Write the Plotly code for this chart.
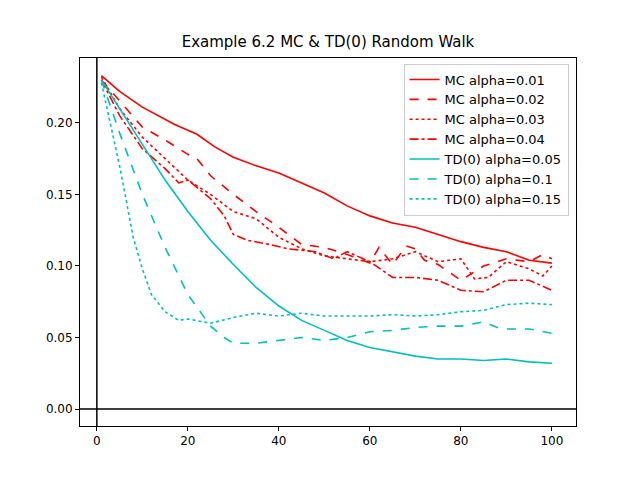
import plotly.graph_objects as go

# values (episodes vs RMS error)
mc1_x = [1, 5, 10, 17, 22, 26, 30, 35, 40, 45, 50, 55, 60, 65, 70, 75, 80, 85, 90, 95, 100]
mc1_y = [0.233, 0.222, 0.211, 0.199, 0.192, 0.183, 0.176, 0.170, 0.165, 0.158, 0.151, 0.142, 0.135, 0.130, 0.127, 0.122, 0.117, 0.113, 0.110, 0.104, 0.102]

mc2_x = [1, 5, 10, 15, 20, 22, 25, 30, 32, 35, 40, 45, 50, 55, 60, 62, 65, 68, 70, 72, 75, 80, 85, 88, 90, 95, 98, 100]
mc2_y = [0.230, 0.215, 0.197, 0.188, 0.178, 0.175, 0.163, 0.150, 0.145, 0.138, 0.127, 0.115, 0.113, 0.108, 0.102, 0.113, 0.101, 0.114, 0.112, 0.104, 0.101, 0.090, 0.100, 0.103, 0.105, 0.103, 0.108, 0.105]

mc3_x = [1, 5, 10, 15, 20, 25, 30, 35, 40, 45, 50, 55, 60, 65, 70, 75, 80, 83, 86, 90, 95, 98, 100]
mc3_y = [0.232, 0.210, 0.190, 0.175, 0.160, 0.150, 0.138, 0.133, 0.120, 0.112, 0.107, 0.105, 0.103, 0.105, 0.110, 0.103, 0.105, 0.091, 0.092, 0.103, 0.098, 0.093, 0.100]

mc4_x = [1, 5, 10, 15, 18, 20, 25, 28, 30, 33, 38, 42, 48, 52, 55, 60, 65, 70, 75, 80, 85, 90, 95, 100]
mc4_y = [0.230, 0.205, 0.182, 0.168, 0.158, 0.160, 0.147, 0.135, 0.122, 0.118, 0.115, 0.112, 0.110, 0.105, 0.110, 0.103, 0.092, 0.092, 0.090, 0.083, 0.082, 0.090, 0.090, 0.083]

td1_x = [1, 5, 10, 15, 20, 25, 30, 35, 40, 45, 50, 55, 60, 65, 70, 75, 80, 85, 90, 95, 100]
td1_y = [0.230, 0.210, 0.185, 0.160, 0.138, 0.118, 0.101, 0.085, 0.072, 0.062, 0.055, 0.048, 0.043, 0.040, 0.037, 0.035, 0.035, 0.034, 0.035, 0.033, 0.032]

td2_x = [1, 5, 10, 15, 20, 25, 28, 30, 35, 40, 45, 50, 55, 60, 65, 70, 75, 80, 85, 88, 90, 95, 100]
td2_y = [0.230, 0.193, 0.150, 0.113, 0.080, 0.058, 0.050, 0.046, 0.046, 0.048, 0.050, 0.048, 0.050, 0.054, 0.055, 0.057, 0.058, 0.058, 0.061, 0.057, 0.056, 0.056, 0.053]

td3_x = [1, 5, 8, 10, 12, 15, 18, 20, 25, 30, 35, 40, 45, 50, 55, 60, 65, 70, 75, 80, 85, 90, 95, 100]
td3_y = [0.228, 0.170, 0.120, 0.098, 0.080, 0.068, 0.062, 0.063, 0.060, 0.064, 0.067, 0.065, 0.067, 0.065, 0.065, 0.065, 0.066, 0.065, 0.066, 0.068, 0.069, 0.073, 0.074, 0.073]

series = [
    ("MC alpha=0.01", mc1_x, mc1_y, "red", "solid"),
    ("MC alpha=0.02", mc2_x, mc2_y, "red", "dash"),
    ("MC alpha=0.03", mc3_x, mc3_y, "red", "dot"),
    ("MC alpha=0.04", mc4_x, mc4_y, "red", "dashdot"),
    ("TD(0) alpha=0.05", td1_x, td1_y, "#00bfbf", "solid"),
    ("TD(0) alpha=0.1", td2_x, td2_y, "#00bfbf", "dash"),
    ("TD(0) alpha=0.15", td3_x, td3_y, "#00bfbf", "dot"),
]

fig = go.Figure()
for name, xs, ys, col, dash in series:
    fig.add_trace(go.Scatter(x=xs, y=ys, mode="lines", name=name,
                             line=dict(color=col, dash=dash, width=1.6)))

# axvline / axhline at zero
fig.add_shape(type="line", xref="x", yref="paper", x0=0, x1=0, y0=0, y1=1, line=dict(color="black", width=1.5))
fig.add_shape(type="line", xref="paper", yref="y", x0=0, x1=1, y0=0, y1=0, line=dict(color="black", width=1.5))

axis = dict(showgrid=False, zeroline=False, showline=True, mirror=True, linecolor="black",
            ticks="outside", ticklen=4, tickcolor="black", automargin=False)
fig.update_layout(
    width=640, height=480,
    paper_bgcolor="white", plot_bgcolor="white",
    font=dict(family="DejaVu Sans", size=12, color="black"),
    title=dict(text="Example 6.2 MC & TD(0) Random Walk", x=0.5, y=0.94, xanchor="center", font=dict(size=15)),
    margin=dict(l=72, r=72, t=50, b=62),
    xaxis=dict(range=[-3.7, 105.3], tickvals=[0, 20, 40, 60, 80, 100], **axis),
    yaxis=dict(range=[-0.0118, 0.2453], tickvals=[0, 0.05, 0.1, 0.15, 0.2], tickformat=".2f", **axis),
    legend=dict(x=0.985, y=0.985, xanchor="right", yanchor="top", bordercolor="#cccccc", borderwidth=1,
                bgcolor="rgba(255,255,255,0.8)", font=dict(size=13), tracegroupgap=0),
    showlegend=True,
)
fig.write_html("out.html")
